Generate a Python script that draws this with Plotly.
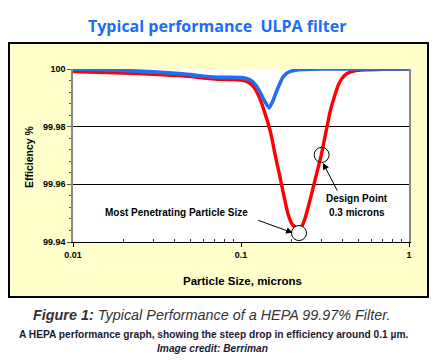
import plotly.graph_objects as go
import math

# ---------------- data ----------------
red_size = [0.01, 0.02, 0.03, 0.045, 0.06, 0.075, 0.1, 0.11, 0.12, 0.13, 0.14, 0.15,
            0.16, 0.17, 0.18, 0.19, 0.20, 0.21, 0.22, 0.23, 0.24, 0.26, 0.28, 0.30,
            0.32, 0.34, 0.36, 0.38, 0.40, 0.43, 0.47, 0.55, 0.7, 1.0]
red_eff = [99.9991, 99.9986, 99.9982, 99.9976, 99.9969, 99.9964, 99.9962, 99.9955, 99.9935,
           99.9895, 99.984, 99.978, 99.970, 99.963, 99.956, 99.950, 99.9465, 99.9452,
           99.9449, 99.9455, 99.948, 99.9555, 99.963, 99.970, 99.978, 99.9855, 99.9905,
           99.9945, 99.9968, 99.9985, 99.9993, 99.9997, 99.9999, 100.0]

blue_size = [0.01, 0.02, 0.03, 0.045, 0.06, 0.075, 0.1, 0.115, 0.124, 0.135, 0.147,
             0.155, 0.164, 0.178, 0.19, 0.215, 0.3, 1.0]
blue_eff = [100.0, 99.9995, 99.999, 99.9983, 99.9975, 99.9971, 99.997, 99.996, 99.994,
            99.990, 99.9865, 99.989, 99.9927, 99.9972, 99.9988, 99.9997, 100.0, 100.0]

mpps_size = [0.2214]
mpps_eff = [99.9431]
design_size = [0.302]
design_eff = [99.9702]

x_tickvals = [0.01, 0.1, 1]
x_ticktext = ["0.01", "0.1", "1"]
y_tickvals = [99.94, 99.96, 99.98, 100]
y_ticktext = ["99.94", "99.96", "99.98", "100"]

# ---------------- layout geometry ----------------
W, H = 434, 361
L, R, T, B = 73, 409, 69, 242
PW, PH = R - L, B - T


def px(x):
    return (x - L) / PW


def py(y):
    return (B - y) / PH


FONT = "Liberation Sans"

fig = go.Figure()

fig.add_trace(go.Scatter(x=red_size, y=red_eff, mode="lines",
                         line=dict(color="#ff0000", width=3.4, shape="spline", smoothing=0.6),
                         hoverinfo="skip", showlegend=False))
fig.add_trace(go.Scatter(x=blue_size, y=blue_eff, mode="lines",
                         line=dict(color="#1f6ff0", width=3.6, shape="spline", smoothing=0.5),
                         hoverinfo="skip", showlegend=False))
fig.add_trace(go.Scatter(x=mpps_size, y=mpps_eff, mode="markers",
                         marker=dict(symbol="circle", size=15, color="white",
                                     line=dict(color="black", width=1)),
                         cliponaxis=False, hoverinfo="skip", showlegend=False))
fig.add_trace(go.Scatter(x=design_size, y=design_eff, mode="markers",
                         marker=dict(symbol="circle-open", size=15, color="black",
                                     line=dict(color="black", width=1)),
                         cliponaxis=False, hoverinfo="skip", showlegend=False))

shapes = [
    dict(type="rect", xref="paper", yref="paper", layer="below",
         x0=px(9), x1=px(428), y0=py(297), y1=py(43),
         fillcolor="#ffffcc", line=dict(color="black", width=2)),
    dict(type="rect", xref="paper", yref="paper", layer="below",
         x0=0, x1=1, y0=0, y1=1, fillcolor="white", line=dict(width=0)),
]


def label(text, x, y, size, color="black", family=FONT, angle=0):
    return dict(text=text, xref="paper", yref="paper", x=px(x), y=py(y),
                xanchor="center", yanchor="middle", showarrow=False, textangle=angle,
                font=dict(family=family, size=size, color=color))


annotations = [
    label("<b>Typical performance  ULPA filter</b>", 217, 26, 16, "#1a6cff", "Open Sans"),
    label("<b>Efficiency %</b>", 29, 157, 10.5, angle=-90),
    label("<b>Particle Size, microns</b>", 242, 281, 11.5),
    label("<b>Most Penetrating Particle Size</b>", 176, 212, 10),
    label("<b>Design Point</b>", 357, 198, 10),
    label("<b>0.3 microns</b>", 357, 212, 10),
    # arrows
    dict(text="", xref="x", yref="y", x=math.log10(0.203), y=99.9432, ax=-36, ay=-13,
         showarrow=True, arrowhead=2, arrowsize=1.3, arrowwidth=1, arrowcolor="black"),
    dict(text="", xref="x", yref="y", x=math.log10(0.3076), y=99.9674, ax=15, ay=29,
         showarrow=True, arrowhead=2, arrowsize=1.3, arrowwidth=1, arrowcolor="black"),
    # caption
    label("<b><i>Figure 1:</i></b><i> Typical Performance of a HEPA 99.97% Filter.</i>",
          212, 315, 14.4, "#333333"),
    label("<b>A HEPA performance graph, showing the steep drop in efficiency around 0.1 µm.</b>",
          213, 334, 10.2, "#1a1a33"),
    label("<b><i>Image credit: Berriman</i></b>", 212, 348, 10.2, "#1a1a33"),
]

fig.update_layout(
    width=W, height=H,
    margin=dict(l=L, r=W - R, t=T, b=H - B, pad=0),
    paper_bgcolor="white", plot_bgcolor="white",
    shapes=shapes, annotations=annotations,
    xaxis=dict(type="log", range=[-2, 0], tickvals=x_tickvals, ticktext=x_ticktext,
               showgrid=False, zeroline=False, showline=True, linecolor="black", linewidth=1,
               ticks="outside", ticklen=4, tickcolor="black",
               minor=dict(ticks="inside", ticklen=3, tickcolor="#333333",
                          tickvals=[a * 10 ** k for k in (-2, -1) for a in range(2, 10)]),
               tickfont=dict(family=FONT, size=9, color="black", weight="bold")),
    yaxis=dict(range=[99.94, 100], tickvals=y_tickvals, ticktext=y_ticktext,
               showgrid=True, gridcolor="black", gridwidth=1, zeroline=False,
               showline=True, linecolor="#888888", linewidth=1.5, mirror=True,
               ticks="outside", ticklen=4, tickcolor="#555555",
               minor=dict(ticks="outside", ticklen=2, tickcolor="#555555", dtick=0.004, showgrid=False),
               tickfont=dict(family=FONT, size=9, color="black", weight="bold")),
)

fig.write_html("out.html", config={"displayModeBar": False},
               post_script="document.body.style.margin='0';")
